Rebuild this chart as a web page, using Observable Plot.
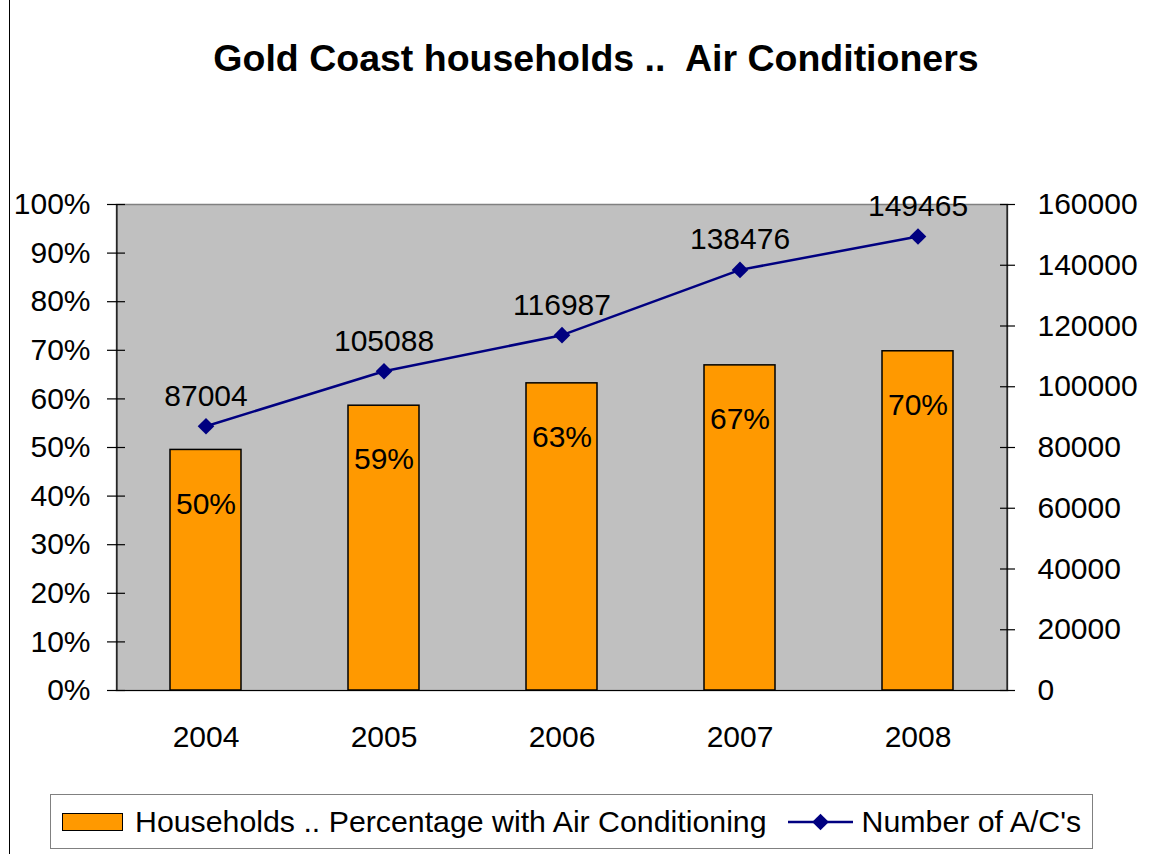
<!DOCTYPE html>
<html><head><meta charset="utf-8">
<script src="https://cdn.jsdelivr.net/npm/d3@7"></script>
<script src="https://cdn.jsdelivr.net/npm/@observablehq/plot@0.6"></script>
<style>
body{margin:0;background:#fff;font-family:"Liberation Sans",Arial,sans-serif;}
#wrap{position:relative;width:1160px;height:854px;overflow:hidden;background:#fff;}
#border{position:absolute;left:9px;top:-3px;width:1200px;height:1000px;border:1.5px solid #000;box-sizing:border-box;}
#title{position:absolute;left:0;top:37px;width:1192px;text-align:center;font-weight:bold;font-size:37.5px;white-space:pre;color:#000;}
#chart{position:absolute;left:0;top:0;}
#legend{position:absolute;left:50px;top:794px;width:1043px;height:55px;border:1.5px solid #808080;box-sizing:border-box;background:#fff;display:flex;align-items:center;font-size:30.3px;color:#000;white-space:pre;}
.sw{width:59px;height:16px;background:#FF9900;border:1.5px solid #000;margin-left:11px;margin-right:12px;flex:none;}
</style></head>
<body>
<div id="wrap">
  <div id="border"></div>
  <div id="title"></div>
  <div id="chart"></div>
  <div id="legend"></div>
</div>
<script>
const chartTitle = "Gold Coast households ..  Air Conditioners";
const years = ["2004", "2005", "2006", "2007", "2008"];
const pctWithAC = [0.495, 0.586, 0.632, 0.669, 0.698];
const pctLabels = ["50%", "59%", "63%", "67%", "70%"];
const numberOfAC = [87004, 105088, 116987, 138476, 149465];
const leftTicks = [0, 0.1, 0.2, 0.3, 0.4, 0.5, 0.6, 0.7, 0.8, 0.9, 1.0];
const rightTicks = [0, 20000, 40000, 60000, 80000, 100000, 120000, 140000, 160000];
const rightMax = 160000;
const seriesNames = ["Households .. Percentage with Air Conditioning", "Number of A/C's"];

const rows = years.map((y, i) => ({year: y, pct: pctWithAC[i], label: pctLabels[i], ac: numberOfAC[i]}));
const half = 891 / 5 / 2;
const FS = 30;

document.getElementById("title").textContent = chartTitle;

const chart = Plot.plot({
  width: 1160, height: 854,
  marginLeft: 116, marginRight: 153, marginTop: 204, marginBottom: 164,
  style: {fontFamily: "'Liberation Sans', Arial, sans-serif", fontSize: FS + "px", background: "transparent", color: "#000"},
  x: {domain: years, paddingInner: 0.6, paddingOuter: 0.3, axis: null, label: null},
  y: {domain: [0, 1], axis: null, label: null},
  marks: [
    Plot.frame({fill: "#C0C0C0", stroke: "#808080", strokeWidth: 1.5}),
    Plot.barY(rows, {x: "year", y: "pct", fill: "#FF9900", stroke: "#000", strokeWidth: 1.5}),
    // left & right axis lines
    Plot.ruleX([years[0]], {x: d => d, dx: -half, y1: 0, y2: 1, stroke: "#000", strokeWidth: 1.2}),
    Plot.ruleX([years[years.length - 1]], {x: d => d, dx: half, y1: 0, y2: 1, stroke: "#000", strokeWidth: 1.2}),
    // category boundary ticks
    Plot.ruleX(years, {x: d => d, dx: -half, y1: 0, y2: 0.02, insetBottom: -10, stroke: "#000", strokeWidth: 1.2}),
    Plot.ruleX([years[years.length - 1]], {x: d => d, dx: half, y1: 0, y2: 0.02, insetBottom: -10, stroke: "#000", strokeWidth: 1.2}),
    Plot.ruleY([0], {stroke: "#000", strokeWidth: 1.2}),
    // left ticks (crossing)
    Plot.ruleY(leftTicks, {y: d => d, insetLeft: -9, insetRight: 882, stroke: "#000", strokeWidth: 1.2}),
    // right ticks (crossing)
    Plot.ruleY(rightTicks, {y: d => d / rightMax, insetLeft: 884, insetRight: -8, stroke: "#000", strokeWidth: 1.2}),
    Plot.axisY(leftTicks, {anchor: "left", label: null, tickSize: 0, tickPadding: 26, tickFormat: d3.format(".0%"), fontSize: FS}),
    Plot.axisY(rightTicks.map(v => v / rightMax), {anchor: "right", label: null, tickSize: 0, tickPadding: 30, tickFormat: d => String(Math.round(d * rightMax)), fontSize: FS}),
    Plot.axisX({label: null, tickSize: 0, tickPadding: 35, fontSize: FS}),
    Plot.line(rows, {x: "year", y: d => d.ac / rightMax, stroke: "#000080", strokeWidth: 2.5}),
    Plot.dot(rows, {x: "year", y: d => d.ac / rightMax, symbol: "diamond2", r: 7.5, fill: "#000080", stroke: "none"}),
    Plot.text(rows, {x: "year", y: d => d.ac / rightMax, text: d => String(d.ac), dy: -30, fontSize: FS, fill: "#000"}),
    Plot.text(rows, {x: "year", y: "pct", text: "label", dy: 54, fontSize: FS, fill: "#000"})
  ]
});
document.getElementById("chart").appendChild(chart);

// legend
const leg = document.getElementById("legend");
const sw = document.createElement("div"); sw.className = "sw"; leg.appendChild(sw);
const t1 = document.createElement("span"); t1.textContent = seriesNames[0]; leg.appendChild(t1);
const ns = "http://www.w3.org/2000/svg";
const ls = document.createElementNS(ns, "svg");
ls.setAttribute("width", 65); ls.setAttribute("height", 20);
ls.style.marginLeft = "21px"; ls.style.marginRight = "9px"; ls.style.flex = "none";
const ln = document.createElementNS(ns, "line");
ln.setAttribute("x1", 0); ln.setAttribute("x2", 65); ln.setAttribute("y1", 10); ln.setAttribute("y2", 10);
ln.setAttribute("stroke", "#000080"); ln.setAttribute("stroke-width", 2.5);
ls.appendChild(ln);
const dm = document.createElementNS(ns, "path");
dm.setAttribute("d", d3.symbol(d3.symbolDiamond2, Math.PI * 7.5 * 7.5)());
dm.setAttribute("transform", "translate(32.5,10)");
dm.setAttribute("fill", "#000080");
ls.appendChild(dm);
leg.appendChild(ls);
const t2 = document.createElement("span"); t2.textContent = seriesNames[1]; leg.appendChild(t2);
</script>
</body></html>
